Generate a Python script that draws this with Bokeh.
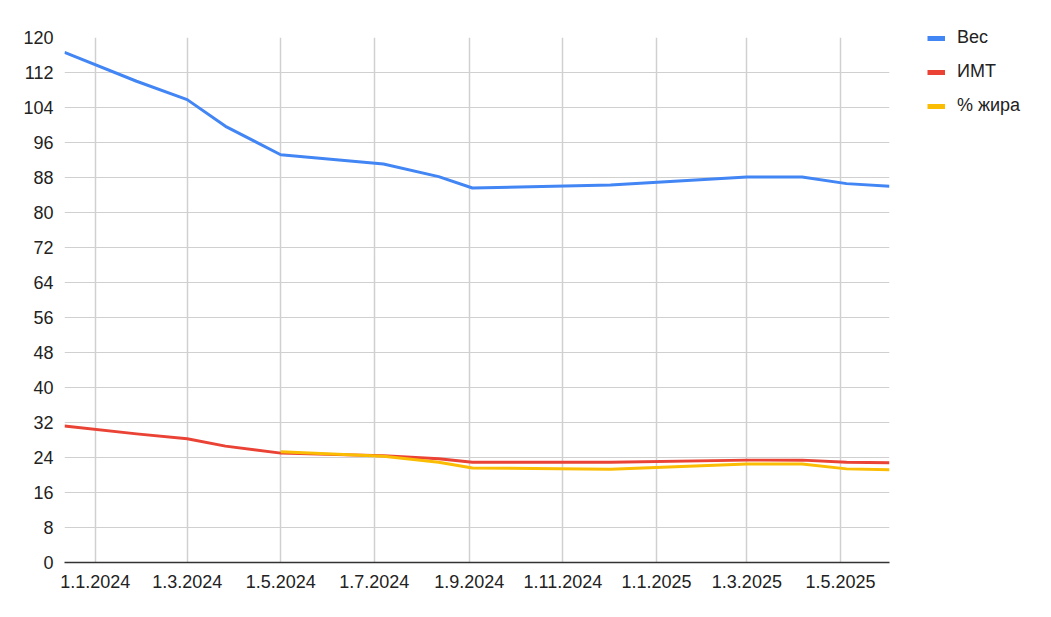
from datetime import datetime
import numpy as np
from bokeh.plotting import figure
from bokeh.layouts import row
from bokeh.models import Range1d, FixedTicker, Legend, LegendItem, ColumnDataSource
from bokeh.embed import file_html
from bokeh.resources import INLINE

dates = ["2023-12-12", "2024-01-28", "2024-03-01", "2024-03-26", "2024-05-01",
         "2024-07-07", "2024-08-12", "2024-09-03", "2024-12-02", "2025-03-01",
         "2025-04-06", "2025-05-05", "2025-06-02"]
weight = [116.6, 110.0, 105.8, 99.7, 93.2, 91.1, 88.2, 85.6, 86.3, 88.1, 88.1, 86.6, 86.0]
bmi = [31.2, 29.4, 28.3, 26.6, 25.0, 24.4, 23.7, 22.9, 22.9, 23.4, 23.4, 22.9, 22.8]
fat = [None, None, None, None, 25.3, 24.3, 22.9, 21.6, 21.3, 22.5, 22.5, 21.4, 21.2]

series_names = ["Вес", "ИМТ", "% жира"]
colors = ["#4285F4", "#EA4335", "#FBBC04"]

x_ticks = ["2024-01-01", "2024-03-01", "2024-05-01", "2024-07-01", "2024-09-01",
           "2024-11-01", "2025-01-01", "2025-03-01", "2025-05-01"]
x_tick_labels = ["1.1.2024", "1.3.2024", "1.5.2024", "1.7.2024", "1.9.2024",
                 "1.11.2024", "1.1.2025", "1.3.2025", "1.5.2025"]
y_ticks = list(range(0, 121, 8))

def to_dt(s):
    return datetime.strptime(s, "%Y-%m-%d")

def to_ms(s):
    return int((to_dt(s) - datetime(1970, 1, 1)).total_seconds() * 1000)

xs = [to_dt(d) for d in dates]
font = "Liberation Sans"

W, H = 900, 610
p = figure(width=W, height=H, x_axis_type="datetime",
           output_backend="svg", toolbar_location=None,
           x_range=Range1d(start=xs[0], end=xs[-1]),
           y_range=Range1d(start=0, end=120),
           min_border_left=64, min_border_right=W - 889, min_border_top=37, min_border_bottom=H - 562)
p.outline_line_color = None
p.background_fill_color = "white"
p.border_fill_color = "white"

src = ColumnDataSource(dict(
    x=xs,
    w=weight,
    b=bmi,
    f=[np.nan if v is None else v for v in fat],
))

for col, c in zip(["w", "b", "f"], colors):
    p.line("x", col, source=src, line_color=c, line_width=3, line_join="round")

# axes
p.xaxis.ticker = FixedTicker(ticks=[to_ms(t) for t in x_ticks])
p.xaxis.major_label_overrides = {to_ms(t): lab for t, lab in zip(x_ticks, x_tick_labels)}
p.yaxis.ticker = FixedTicker(ticks=y_ticks)

for ax in (p.xaxis[0], p.yaxis[0]):
    ax.major_tick_line_color = None
    ax.minor_tick_line_color = None
    ax.major_label_text_font = font
    ax.major_label_text_font_size = "18px"
    ax.major_label_text_color = "#222222"
p.yaxis.axis_line_color = None
p.yaxis.major_label_standoff = 5
p.xaxis.axis_line_color = "#333333"
p.xaxis.axis_line_width = 1.5
p.xaxis.major_label_standoff = 6

p.xgrid.ticker = p.xaxis[0].ticker
p.ygrid.ticker = p.yaxis[0].ticker
p.xgrid.grid_line_color = "#d0d0d0"
p.ygrid.grid_line_color = "#d0d0d0"
p.xgrid.grid_line_width = 1.5
p.ygrid.grid_line_width = 1.2

# legend panel (separate figure to the right, so the legend is not clipped)
LW = 140
pl = figure(width=LW, height=H, output_backend="svg", toolbar_location=None,
            x_axis_location=None, y_axis_location=None,
            x_range=Range1d(0, 1), y_range=Range1d(0, 1),
            min_border_left=0, min_border_right=0, min_border_top=0, min_border_bottom=0)
pl.outline_line_color = None
pl.grid.visible = False
pl.background_fill_color = "white"
pl.border_fill_color = "white"
frame_aligned = True
try:
    pl.frame_align = False
    p.frame_align = False
    frame_aligned = False
except AttributeError:
    pass

items = []
for name, c in zip(series_names, colors):
    r = pl.line(x=[np.nan], y=[np.nan], line_color=c, line_width=5)
    items.append(LegendItem(label=name, renderers=[r]))

bottom_ref = 562 if frame_aligned else H
legend = Legend(items=items, location=(927 - W, bottom_ref - 116), orientation="vertical",
                glyph_width=18, glyph_height=20, label_height=20, label_standoff=12,
                spacing=13, padding=0, margin=0, border_line_color=None,
                background_fill_alpha=0,
                label_text_font=font, label_text_font_size="18px",
                label_text_color="#222222")
pl.add_layout(legend, "center")

layout = row(p, pl, spacing=0)
open("out.html", "w").write(file_html(layout, INLINE))
